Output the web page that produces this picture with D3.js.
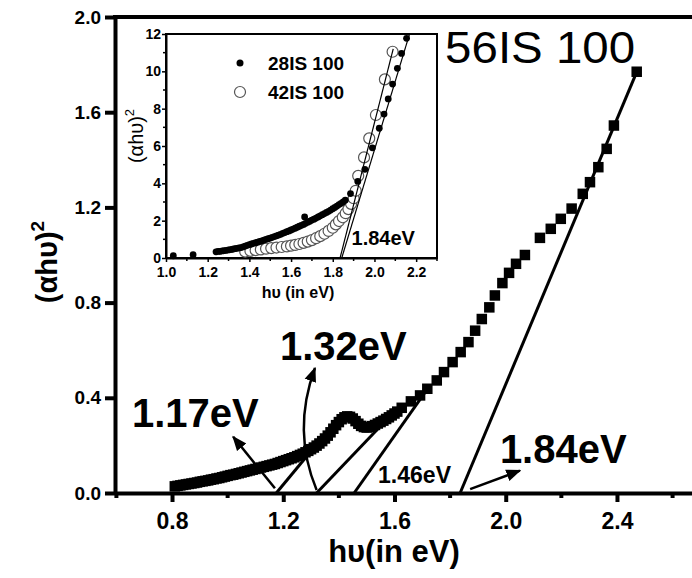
<!DOCTYPE html>
<html><head><meta charset="utf-8">
<script src="https://cdn.jsdelivr.net/npm/d3@7"></script>
<style>body{margin:0;background:#fff}svg{display:block;font-family:"Liberation Sans",Arial,sans-serif}</style>
</head><body><svg id="c" width="692" height="578"></svg>
<script>
// ---------- main chart data (56IS 100) ----------
const mainTicksX=[0.8,1.2,1.6,2.0,2.4];
const mainMinorX=[0.6,1.0,1.4,1.8,2.2,2.6];
const mainTicksY=[0,0.4,0.8,1.2,1.6,2.0];
const mainHv=[0.81,0.82,0.83,0.84,0.85,0.86,0.87,0.88,0.89,0.90,0.91,0.92,0.93,0.94,0.95,0.96,0.97,0.98,0.99,1.00,
1.01,1.02,1.03,1.04,1.05,1.06,1.07,1.08,1.09,1.10,1.11,1.12,1.13,1.14,1.15,1.16,1.17,1.18,1.19,1.20,
1.21,1.22,1.23,1.24,1.25,1.26,1.27,1.28,1.29,1.30,1.31,1.32,1.33,1.34,1.35,1.36,1.37,1.38,1.39,1.40,
1.41,1.42,1.43,1.44,1.45,1.46,1.47,1.48,1.49,1.50,1.51,1.52,1.53,1.54,1.55,1.56,1.57,1.58,1.59,1.60,1.61,
1.626,1.659,1.692,1.718,1.752,1.778,1.809,1.838,1.866,1.890,1.914,1.941,1.961,1.988,2.012,2.037,2.069,
2.123,2.162,2.198,2.237,2.277,2.303,2.333,2.363,2.389,2.471];
const mainVal=[.028,.030,.032,.034,.036,.038,.040,.042,.044,.047,.049,.051,.053,.056,.058,.061,.063,.066,.069,.072,
.075,.077,.080,.083,.086,.089,.092,.095,.098,.101,.104,.107,.110,.113,.116,.119,.122,.126,.130,.134,
.138,.142,.146,.150,.155,.160,.165,.171,.177,.184,.191,.199,.208,.218,.229,.241,.255,.270,.285,.298,
.310,.318,.322,.320,.313,.302,.291,.282,.277,.275,.277,.281,.286,.292,.298,.304,.311,.318,.326,.334,.342,
.358,.385,.410,.438,.473,.508,.550,.592,.634,.682,.731,.780,.830,.882,.925,.963,1.000,
1.072,1.110,1.152,1.195,1.257,1.306,1.369,1.446,1.544,1.770];
// fitted lines [x1,y1,x2,y2]
const mainFits=[[1.175,0,1.31,0.19],[1.32,0,1.545,0.275],[1.455,0,1.72,0.44],[1.836,0,2.475,1.78]];
// ---------- inset data ----------
const insetTicksX=[1.0,1.2,1.4,1.6,1.8,2.0,2.2];
const insetMinorX=[1.1,1.3,1.5,1.7,1.9,2.1,2.3];
const insetTicksY=[0,2,4,6,8,10,12];
const insetMinorY=[1,3,5,7,9,11];
const s28Hv=[1.035,1.13,1.24,1.25,1.26,1.27,1.28,1.29,1.30,1.31,1.32,1.33,1.34,1.35,1.36,1.37,1.38,1.39,1.40,
1.41,1.42,1.43,1.44,1.45,1.46,1.47,1.48,1.49,1.50,1.51,1.52,1.53,1.54,1.55,1.56,1.57,1.58,1.59,1.60,
1.61,1.62,1.63,1.64,1.65,1.66,1.665,1.67,1.68,1.69,1.70,1.71,1.72,1.73,1.74,1.75,1.76,1.77,1.78,1.79,1.80,
1.81,1.82,1.83,1.84,1.85,1.86,1.885,1.92,1.954,1.99,2.023,2.046,2.066,2.087,2.11,2.13,2.154];
const s28Val=[0.12,0.18,.33,.35,.36,.38,.40,.41,.43,.45,.47,.50,.52,.54,.56,.60,.64,.68,.72,
.75,.78,.82,.85,.89,.92,.96,1.00,1.03,1.07,1.11,1.15,1.19,1.23,1.27,1.32,1.36,1.41,1.45,1.50,
1.55,1.60,1.65,1.70,1.75,1.80,2.2,1.86,1.92,1.97,2.03,2.08,2.14,2.20,2.26,2.32,2.38,2.44,2.50,2.57,2.64,
2.71,2.78,2.86,2.93,3.01,3.10,3.45,4.1,4.75,5.9,6.95,7.71,8.52,9.32,10.16,10.96,11.77];
const s42Hv=[1.38,1.405,1.43,1.455,1.48,1.505,1.53,1.555,1.58,1.60,1.62,1.64,1.66,1.68,1.70,1.72,1.74,1.76,1.78,1.80,
1.815,1.83,1.848,1.862,1.875,1.888,1.90,1.91,1.922,1.95,1.975,2.007,2.05,2.087];
const s42Val=[.34,.38,.42,.46,.50,.53,.56,.59,.62,.66,.70,.75,.81,.88,.96,1.06,1.17,1.30,1.45,1.62,
1.80,1.98,2.18,2.40,2.62,2.90,3.20,3.60,4.40,5.39,6.41,7.66,9.57,11.05];
const insetFits=[[1.835,0,2.09,11.2],[1.843,0,2.167,11.95]];

const svg=d3.select("#c");
const x=d3.scaleLinear().domain([0.6,2.8]).range([116.4,728.2]);
const y=d3.scaleLinear().domain([0,2]).range([493,17]);

// arrow marker
const defs=svg.append("defs");
defs.append("marker").attr("id","ah").attr("viewBox","0 0 10 10").attr("refX",9).attr("refY",5)
 .attr("markerWidth",6).attr("markerHeight",6).attr("orient","auto-start-reverse").attr("markerUnits","strokeWidth")
 .append("path").attr("d","M0,1 L10,5 L0,9 Z").attr("fill","#000");

// main axes
const gx=svg.append("g").attr("transform","translate(0,493)")
 .call(d3.axisBottom(x).tickValues(mainTicksX).tickSize(9).tickSizeOuter(0).tickFormat(d3.format(".1f")));
gx.select(".domain").attr("stroke-width",4);
gx.selectAll(".tick line").attr("stroke-width",4);
gx.selectAll(".tick text").attr("font-size",23).attr("font-weight","bold").attr("dy","1.05em").attr("font-family","Liberation Sans, Arial");
svg.append("g").selectAll("line").data(mainMinorX).join("line")
 .attr("x1",d=>x(d)).attr("x2",d=>x(d)).attr("y1",493).attr("y2",498).attr("stroke","#000").attr("stroke-width",4);
const gy=svg.append("g").attr("transform","translate(115,0)")
 .call(d3.axisLeft(y).tickValues(mainTicksY).tickSize(10).tickSizeOuter(0).tickFormat(d3.format(".1f")));
gy.select(".domain").attr("stroke-width",4);
gy.selectAll(".tick line").attr("stroke-width",4);
gy.selectAll(".tick text").attr("font-size",19).attr("font-weight","bold").attr("x",-14).attr("font-family","Liberation Sans, Arial");
svg.append("line").attr("x1",113).attr("x2",692).attr("y1",y(2)).attr("y2",y(2)).attr("stroke","#000").attr("stroke-width",4);

// main data squares
const mainData=mainHv.map((h,i)=>({h,v:mainVal[i]}));
svg.append("g").selectAll("rect").data(mainData).join("rect")
 .attr("x",d=>x(d.h)-5.25).attr("y",d=>y(d.v)-5.25).attr("width",10.5).attr("height",10.5).attr("fill","#000");

// fit lines
svg.append("g").selectAll("line").data(mainFits).join("line")
 .attr("x1",d=>x(d[0])).attr("y1",d=>y(d[1])).attr("x2",d=>x(d[2])).attr("y2",d=>y(d[3]))
 .attr("stroke","#000").attr("stroke-width",3);

// arrows
const arrows=[[1.17,0.02,1.02,0.236],[1.872,0.016,2.051,0.094]];
svg.append("g").selectAll("line").data(arrows).join("line")
 .attr("x1",d=>x(d[0])).attr("y1",d=>y(d[1])).attr("x2",d=>x(d[2])).attr("y2",d=>y(d[3]))
 .attr("stroke","#000").attr("stroke-width",2.5).attr("marker-end","url(#ah)");
const cp=d3.path(); cp.moveTo(x(1.32),y(0.013)); cp.quadraticCurveTo(x(1.231),y(0.26),x(1.314),y(0.525));
svg.append("path").attr("d",cp.toString()).attr("fill","none").attr("stroke","#000").attr("stroke-width",2.5).attr("marker-end","url(#ah)");

// labels
const lab=(t,hx,vy,fs,fw)=>svg.append("text").attr("x",x(hx)).attr("y",y(vy)).attr("font-size",fs).attr("font-weight",fw).text(t);
lab("1.17eV",0.656,0.277,40,"bold");
lab("1.32eV",1.188,0.559,40,"bold");
lab("1.84eV",1.979,0.127,40,"bold");
lab("1.46eV",1.541,0.041,23,"bold");
lab("56IS 100",1.782,1.805,44,"normal").attr("textLength",190).attr("lengthAdjust","spacingAndGlyphs");

// axis titles
svg.append("text").attr("x",394).attr("y",562).attr("text-anchor","middle").attr("font-size",31).attr("font-weight","bold").text("hυ(in eV)");
const yt=svg.append("text").attr("transform","translate(57,262) rotate(-90)").attr("text-anchor","middle").attr("font-size",29).attr("font-weight","bold");
yt.append("tspan").text("(αhυ)");
yt.append("tspan").attr("font-size",19).attr("dy",-13).text("2");

// ---------- inset ----------
const xi=d3.scaleLinear().domain([1.0,2.3]).range([166,437]);
const yi=d3.scaleLinear().domain([0,12]).range([258,34]);
const ins=svg.append("g");
ins.append("rect").attr("x",166).attr("y",34).attr("width",271).attr("height",224).attr("fill","#fff").attr("stroke","#000").attr("stroke-width",2);
const ix=ins.append("g").attr("transform","translate(0,258)")
 .call(d3.axisBottom(xi).tickValues(insetTicksX).tickSize(4).tickSizeOuter(0).tickFormat(d3.format(".1f")));
ix.select(".domain").attr("stroke-width",2);
ix.selectAll(".tick line").attr("stroke-width",1.5);
ix.selectAll(".tick text").attr("font-size",14).attr("font-weight","bold").attr("dy","0.85em");
ins.append("g").selectAll("line").data(insetMinorX).join("line")
 .attr("x1",d=>xi(d)).attr("x2",d=>xi(d)).attr("y1",258).attr("y2",261).attr("stroke","#000").attr("stroke-width",1.5);
const iy=ins.append("g").attr("transform","translate(166,0)")
 .call(d3.axisLeft(yi).tickValues(insetTicksY).tickSize(4).tickSizeOuter(0));
iy.select(".domain").attr("stroke-width",2);
iy.selectAll(".tick line").attr("stroke-width",1.5);
iy.selectAll(".tick text").attr("font-size",14).attr("font-weight","bold").attr("x",-5);
ins.append("g").selectAll("line").data(insetMinorY).join("line")
 .attr("y1",d=>yi(d)).attr("y2",d=>yi(d)).attr("x1",163).attr("x2",166).attr("stroke","#000").attr("stroke-width",1.5);

const d42=s42Hv.map((h,i)=>({h,v:s42Val[i]}));
const d28=s28Hv.map((h,i)=>({h,v:s28Val[i]}));
ins.append("g").selectAll("circle").data(d42).join("circle")
 .attr("cx",d=>xi(d.h)).attr("cy",d=>yi(d.v)).attr("r",5.5).attr("fill","#fff").attr("stroke","#555").attr("stroke-width",1.2);
ins.append("g").selectAll("circle").data(d28).join("circle")
 .attr("cx",d=>xi(d.h)).attr("cy",d=>yi(d.v)).attr("r",3.4).attr("fill","#000");
ins.append("g").selectAll("line").data(insetFits).join("line")
 .attr("x1",d=>xi(d[0])).attr("y1",d=>yi(d[1])).attr("x2",d=>xi(d[2])).attr("y2",d=>yi(d[3]))
 .attr("stroke","#000").attr("stroke-width",1.2);
ins.append("text").attr("x",xi(1.89)).attr("y",yi(0.69)).attr("font-size",20).attr("font-weight","bold").text("1.84eV");

// legend
ins.append("circle").attr("cx",240).attr("cy",63).attr("r",3.5).attr("fill","#000");
ins.append("circle").attr("cx",240).attr("cy",92).attr("r",5.5).attr("fill","#fff").attr("stroke","#555").attr("stroke-width",1.2);
ins.append("text").attr("x",268).attr("y",70).attr("font-size",19).attr("font-weight","bold").text("28IS 100");
ins.append("text").attr("x",268).attr("y",99).attr("font-size",19).attr("font-weight","bold").text("42IS 100");

// inset titles
ins.append("text").attr("x",298).attr("y",298).attr("text-anchor","middle").attr("font-size",16).attr("font-weight","bold").text("hυ (in eV)");
const it=ins.append("text").attr("transform","translate(143,136) rotate(-90)").attr("text-anchor","middle").attr("font-size",20);
it.append("tspan").text("(αhυ)");
it.append("tspan").attr("font-size",13).attr("dy",-9).text("2");
</script></body></html>
